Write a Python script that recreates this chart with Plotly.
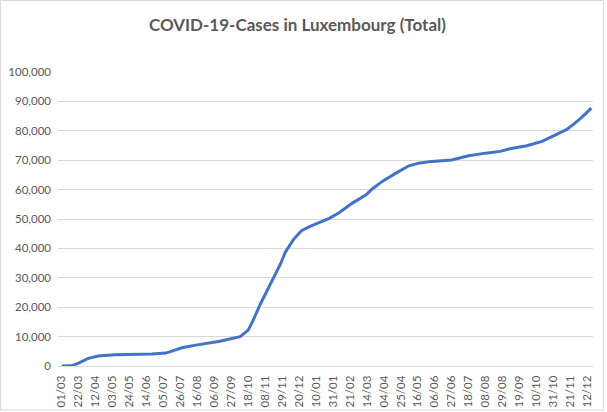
import plotly.graph_objects as go

# cumulative cases
dates = [
    "2020-03-01", "2020-03-13", "2020-03-22", "2020-04-03", "2020-04-15",
    "2020-05-06", "2020-06-21", "2020-07-08", "2020-07-28", "2020-08-14",
    "2020-09-13", "2020-10-08", "2020-10-18", "2020-10-24", "2020-11-02",
    "2020-11-10", "2020-11-16", "2020-11-27", "2020-12-03", "2020-12-13",
    "2020-12-23", "2021-01-02", "2021-01-27", "2021-02-08", "2021-02-24",
    "2021-03-13", "2021-03-21", "2021-04-02", "2021-04-19", "2021-05-05",
    "2021-05-17", "2021-06-02", "2021-06-27", "2021-07-18", "2021-08-08",
    "2021-08-26", "2021-09-07", "2021-09-28", "2021-10-17", "2021-11-03",
    "2021-11-16", "2021-11-24", "2021-12-04", "2021-12-17",
]
cases = [
    0, 50, 1000, 2600, 3400,
    3850, 4100, 4400, 6200, 7100,
    8400, 10000, 12200, 15400, 21000,
    25500, 28400, 34700, 38700, 43000,
    46000, 47400, 50300, 52200, 55400,
    58200, 60300, 62800, 65600, 68100,
    69000, 69600, 70100, 71500, 72400,
    73000, 73900, 74900, 76400, 78600,
    80400, 82000, 84300, 87700,
]

grey = "#595959"
light = "#d9d9d9"

fig = go.Figure(go.Scatter(
    x=dates, y=cases, mode="lines",
    line=dict(color="#4472C4", width=3),
    hovertemplate="%{x|%d/%m/%Y}: %{y:,}<extra></extra>",
))

fig.update_layout(
    width=607,
    height=412,
    margin=dict(l=58, r=14, t=72, b=46),
    paper_bgcolor="white",
    plot_bgcolor="white",
    showlegend=False,
    font=dict(family="Lato", size=11.5, color=grey),
    title=dict(
        text="<b>COVID-19-Cases in Luxembourg (Total)</b>",
        x=0.49, xanchor="center",
        y=1 - 25 / 412, yanchor="middle",
        font=dict(family="Lato", size=17, color=grey),
    ),
    # light frame round the whole chart, like Excel's chart area
    shapes=[dict(
        type="rect", xref="paper", yref="paper",
        x0=(0.5 - 58) / 535, x1=(603.5 - 58) / 535,
        y0=(366 - 410) / 294, y1=(366 - 0.5) / 294,
        line=dict(color=light, width=1),
    )],
)

fig.update_xaxes(
    type="date",
    range=["2020-02-25 12:00", "2021-12-19"],
    tick0="2020-03-01",
    dtick=21 * 86400000,
    tickformat="%d/%m",
    tickangle=-90,
    showgrid=False,
    showline=True,
    linecolor=light,
    linewidth=1,
    ticks="",
    ticklabelstandoff=4,
    automargin=False,
)

fig.update_yaxes(
    range=[0, 100000],
    dtick=10000,
    tickformat=",",
    showgrid=True,
    gridcolor=light,
    gridwidth=1,
    zeroline=False,
    showline=False,
    ticks="",
    ticklabelstandoff=6,
    automargin=False,
)

# drop the browser's default body margin so the chart sits at 0,0
fig.write_html(
    "out.html",
    config={"displayModeBar": False},
    post_script="document.body.style.margin='0';",
)
